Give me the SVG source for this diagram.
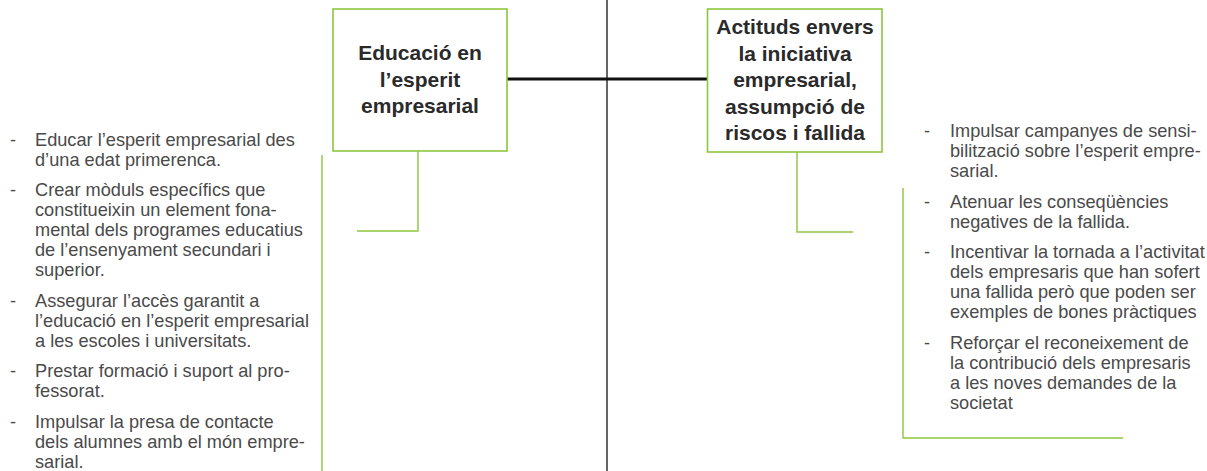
<svg xmlns="http://www.w3.org/2000/svg" width="1207" height="471" viewBox="0 0 1207 471">
<style>
.box{fill:#fff;stroke:#8dc63f;stroke-width:1.6}
.g{fill:none;stroke:#8dc63f;stroke-width:1.4}
.title{font-family:"Liberation Sans",Arial,sans-serif;font-weight:bold;font-size:21px;fill:#2a2a2a;text-anchor:middle}
.li{font-family:"Liberation Sans",Arial,sans-serif;font-size:18.2px;fill:#4a4a4a}
</style>
<rect width="1207" height="471" fill="#fff"/>
<g id="connectors">
<line x1="607" y1="0" x2="607" y2="471" stroke="#333" stroke-width="1.5"/>
<line x1="507" y1="79" x2="707" y2="79" stroke="#111" stroke-width="3"/>
<polyline class="g" points="418,151 418,231 357,231"/>
<polyline class="g" points="797,152 797,232 853,232"/>
</g>
<g id="node-educacio">
<rect class="box" x="333" y="9" width="174" height="142"/>
<text class="title" x="420" y="60">Educació en</text>
<text class="title" x="420" y="87">l’esperit</text>
<text class="title" x="420" y="113">empresarial</text>
</g>
<g id="node-actituds">
<rect class="box" x="707.5" y="9" width="174.5" height="143"/>
<text class="title" x="795" y="34">Actituds envers</text>
<text class="title" x="795" y="60.5">la iniciativa</text>
<text class="title" x="795" y="87">empresarial,</text>
<text class="title" x="795" y="113.5">assumpció de</text>
<text class="title" x="795" y="140">riscos i fallida</text>
</g>
<g id="list-educacio">
<line class="g" x1="322" y1="155" x2="322" y2="471"/>
<text class="li" x="10" y="145.5">-</text>
<text class="li" x="35" y="145.5">Educar l’esperit empresarial des</text>
<text class="li" x="35" y="165.5">d’una edat primerenca.</text>
<text class="li" x="10" y="196">-</text>
<text class="li" x="35" y="196">Crear mòduls específics que</text>
<text class="li" x="35" y="216">constitueixin un element fona-</text>
<text class="li" x="35" y="236">mental dels programes educatius</text>
<text class="li" x="35" y="256">de l’ensenyament secundari i</text>
<text class="li" x="35" y="276">superior.</text>
<text class="li" x="10" y="306.5">-</text>
<text class="li" x="35" y="306.5">Assegurar l’accès garantit a</text>
<text class="li" x="35" y="326.5">l’educació en l’esperit empresarial</text>
<text class="li" x="35" y="346.5">a les escoles i universitats.</text>
<text class="li" x="10" y="377">-</text>
<text class="li" x="35" y="377">Prestar formació i suport al pro-</text>
<text class="li" x="35" y="397">fessorat.</text>
<text class="li" x="10" y="427.5">-</text>
<text class="li" x="35" y="427.5">Impulsar la presa de contacte</text>
<text class="li" x="35" y="447.5">dels alumnes amb el món empre-</text>
<text class="li" x="35" y="467.5">sarial.</text>
</g>
<g id="list-actituds">
<polyline class="g" points="903,188 903,438 1123,438"/>
<text class="li" x="924" y="137">-</text>
<text class="li" x="950" y="137">Impulsar campanyes de sensi-</text>
<text class="li" x="950" y="157">bilització sobre l’esperit empre-</text>
<text class="li" x="950" y="177">sarial.</text>
<text class="li" x="924" y="207.5">-</text>
<text class="li" x="950" y="207.5">Atenuar les conseqüències</text>
<text class="li" x="950" y="227.5">negatives de la fallida.</text>
<text class="li" x="924" y="258">-</text>
<text class="li" x="950" y="258">Incentivar la tornada a l’activitat</text>
<text class="li" x="950" y="278">dels empresaris que han sofert</text>
<text class="li" x="950" y="298">una fallida però que poden ser</text>
<text class="li" x="950" y="318">exemples de bones pràctiques</text>
<text class="li" x="924" y="348.5">-</text>
<text class="li" x="950" y="348.5">Reforçar el reconeixement de</text>
<text class="li" x="950" y="368.5">la contribució dels empresaris</text>
<text class="li" x="950" y="388.5">a les noves demandes de la</text>
<text class="li" x="950" y="408.5">societat</text>
</g>
</svg>
